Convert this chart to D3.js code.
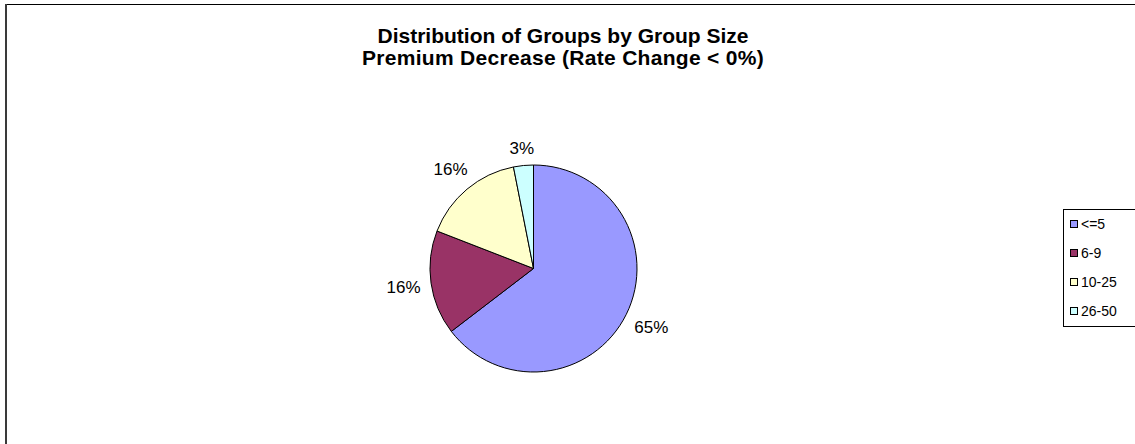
<!DOCTYPE html>
<html>
<head>
<meta charset="utf-8">
<script src="https://cdn.jsdelivr.net/npm/d3@7"></script>
<style>
  html, body { margin: 0; padding: 0; background: #fff; }
  svg { display: block; font-family: Arial, "Liberation Sans", sans-serif; }
</style>
</head>
<body>
<svg id="chart" width="1135" height="444"></svg>
<script>
const categories = ["<=5", "6-9", "10-25", "26-50"];
const values = [64.6, 16.3, 16.0, 3.1];
const labels = ["65%", "16%", "16%", "3%"];
const colors = ["#9999FF", "#993366", "#FFFFCC", "#CCFFFF"];
const titleLines = ["Distribution of Groups by Group Size", "Premium Decrease (Rate Change < 0%)"];

const svg = d3.select("#chart");
const W = 1135, H = 444;

// chart frame (clipped at right/bottom)
svg.append("line").attr("x1", 6).attr("y1", 4.5).attr("x2", W).attr("y2", 4.5)
  .attr("stroke", "#000").attr("stroke-width", 1);
svg.append("line").attr("x1", 6).attr("y1", 4).attr("x2", 6).attr("y2", H)
  .attr("stroke", "#3a3a3a").attr("stroke-width", 2);

// title
const title = svg.append("text").attr("text-anchor", "middle")
  .attr("font-weight", "bold").attr("font-size", 21).attr("fill", "#000");
titleLines.forEach((t, i) => {
  title.append("tspan").attr("x", 563).attr("y", 43 + i * 22)
    .attr("letter-spacing", i === 1 ? 0.3 : 0).text(t);
});

// pie
const cx = 533.5, cy = 268.5, R = 103.5;
const pie = d3.pie().sort(null).value(d => d);
const arcs = pie(values);
const arc = d3.arc().innerRadius(0).outerRadius(R);
const g = svg.append("g").attr("transform", `translate(${cx},${cy})`);
g.selectAll("path").data(arcs).join("path")
  .attr("d", arc)
  .attr("fill", (d, i) => colors[i])
  .attr("stroke", "#000").attr("stroke-width", 1).attr("stroke-linejoin", "round");

// data labels placed just outside the pie, box edge at R + gap
const fs = 17, gap = 10;
g.selectAll("text.lbl").data(arcs).join("text")
  .attr("class", "lbl")
  .attr("font-size", fs).attr("fill", "#000")
  .attr("text-anchor", "middle").attr("dy", "0.35em")
  .text((d, i) => labels[i])
  .each(function(d) {
    const w = this.getComputedTextLength();
    const h = fs * 0.72;
    const a = (d.startAngle + d.endAngle) / 2;
    const s = Math.sin(a), c = -Math.cos(a);
    const r = R + gap + Math.abs(s) * w / 2 + Math.abs(c) * h / 2;
    d3.select(this).attr("x", s * r).attr("y", c * r);
  });

// legend
const lx = 1063.5, ly = 209.5, lh = 117, lw = 90;
svg.append("rect").attr("x", lx).attr("y", ly).attr("width", lw).attr("height", lh)
  .attr("fill", "#fff").attr("stroke", "#000").attr("stroke-width", 1);
const ly0 = d3.scalePoint().domain(categories).range([224, 311]);
const leg = svg.append("g");
categories.forEach((c, i) => {
  const y = ly0(c);
  leg.append("rect").attr("x", 1070.5).attr("y", y - 3.5).attr("width", 7).attr("height", 7)
    .attr("fill", colors[i]).attr("stroke", "#000").attr("stroke-width", 1);
  leg.append("text").attr("x", 1081).attr("y", y).attr("dy", "0.36em")
    .attr("font-size", 14).attr("fill", "#000").text(c);
});
</script>
</body>
</html>
